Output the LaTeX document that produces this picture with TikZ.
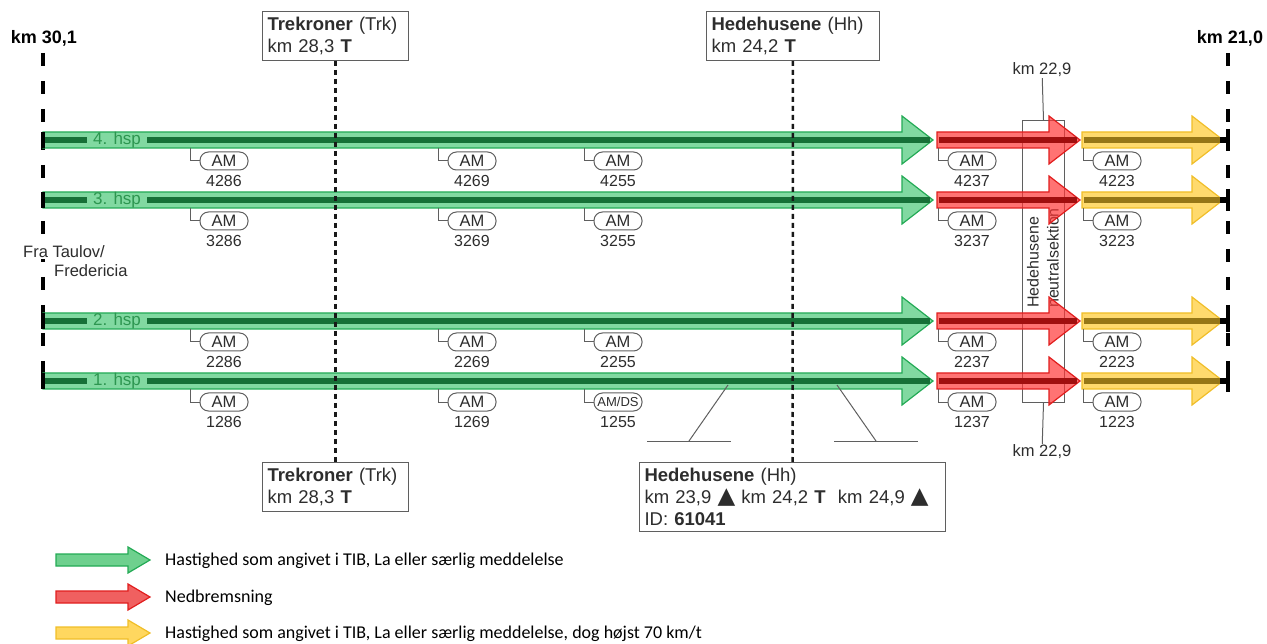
\documentclass[tikz,border=0pt]{standalone}
\usepackage{fontspec}
\setmainfont{Liberation Sans}
\newfontfamily\legendfont{Carlito}
\newfontfamily\trianglefont{DejaVu Sans}
\usetikzlibrary{
	calc,
	positioning,
}
\definecolor{textgray}{RGB}{45,45,45}
\definecolor{boxgray}{RGB}{95,95,95}
\definecolor{hspgreen}{RGB}{80,202,125}
\definecolor{hspgreenedge}{RGB}{35,170,85}
\definecolor{hspgreendark}{RGB}{22,112,55}
\definecolor{hsplabel}{RGB}{45,150,80}
\definecolor{hspred}{RGB}{255,55,55}
\definecolor{hspredegde}{RGB}{225,30,30}
\definecolor{hspreddark}{RGB}{160,15,15}
\definecolor{hspyellow}{RGB}{255,205,60}
\definecolor{hspyellowedge}{RGB}{240,190,40}
\definecolor{hspyellowdark}{RGB}{150,118,22}
\definecolor{legendgreen}{RGB}{110,208,142}
\definecolor{legendred}{RGB}{240,96,96}
\definecolor{legendyellow}{RGB}{255,215,95}

\tikzset{station box/.style={
	draw=boxgray,
	line width=1pt,
	fill=white,
	align=left,
	inner sep=5pt,
	anchor=north west,
	font=\fontsize{18.5}{22}\selectfont,
	text=textgray,
}}
\tikzset{km label/.style={
	inner sep=0pt,
	font=\bfseries\fontsize{18}{20}\selectfont,
	text=black,
}}
\tikzset{small label/.style={
	inner sep=1pt,
	font=\fontsize{16.5}{20}\selectfont,
	text=textgray,
}}
\tikzset{am pill/.style={
	draw=boxgray,
	line width=1pt,
	rounded corners=8.5pt,
	minimum width=48pt,
	minimum height=18pt,
	inner sep=0pt,
	font=\fontsize{16.5}{16.5}\selectfont,
	text=textgray,
}}
\tikzset{am number/.style={
	inner sep=0pt,
	font=\fontsize{16}{16}\selectfont,
	text=textgray,
}}
\tikzset{thin line/.style={
	draw=boxgray,
	line width=1pt,
}}
\tikzset{km line/.style={
	line width=4pt,
	dash pattern=on 13pt off 15pt,
	black,
}}
\tikzset{station line/.style={
	line width=2.5pt,
	dash pattern=on 5pt off 4pt,
	black!90,
}}
\tikzset{end stub/.style={
	line width=4pt,
	black,
}}
\tikzset{green arrow/.style={
	fill=hspgreen,
	fill opacity=0.72,
	draw=hspgreenedge,
	line width=1.2pt,
}}
\tikzset{red arrow/.style={
	fill=hspred,
	fill opacity=0.7,
	draw=hspredegde,
	line width=1.2pt,
}}
\tikzset{yellow arrow/.style={
	fill=hspyellow,
	fill opacity=0.75,
	draw=hspyellowedge,
	line width=1.2pt,
}}
\tikzset{track line/.style={
	line width=6pt,
}}
\tikzset{track label/.style={
	inner xsep=6pt,
	inner ysep=0pt,
	font=\fontsize{17}{17}\selectfont,
	text=hsplabel,
}}
\tikzset{legend text/.style={
	anchor=west,
	inner sep=0pt,
	font=\legendfont\fontsize{18}{20}\selectfont,
	text=black,
}}
\newcommand{\tri}{{\trianglefont\fontsize{23}{20}\selectfont ▲}}

\begin{document}
\begin{tikzpicture}[x=1pt,y=-1pt]
\useasboundingbox (0,0) rectangle (1267,644);

% km limits
\node[km label](km301) 	at (44,38) {km 30,1};
\node[km label](km210) 	at (1230,38) {km 21,0};
\coordinate(lefttop) 	at (43,53);
\coordinate(leftbot) 	at (43,388);
\coordinate(righttop) 	at (1228,53);
\coordinate(rightbot) 	at (1228,388);
\draw[km line] (lefttop) -- (leftbot);
\draw[km line] (righttop) -- (rightbot);

% neutral section
\node[thin line, anchor=north west, minimum width=42pt, minimum height=282pt, inner sep=0pt](neutral) at (1022,120) {};
\node[small label, rotate=90, align=left, anchor=west, font=\fontsize{16}{20}\selectfont](neutraltext) at (1043,309) {Hedehusene\\neutralsektion};

% tracks
\newcommand{\hsparrow}[4]{
\path[#4] (#1,#3-8) -- (#2-31,#3-8) -- (#2-31,#3-24) -- (#2,#3)
-- (#2-31,#3+24) -- (#2-31,#3+8) -- (#1,#3+8) -- cycle;
}
\newcommand{\hsptrack}[2]{
\hsparrow{43}{933}{#2}{green arrow}
\hsparrow{937}{1080}{#2}{red arrow}
\hsparrow{1082}{1223}{#2}{yellow arrow}
\coordinate(s#1) 	at (43,#2);
\coordinate(g#1) 	at (930,#2);
\coordinate(r#1) 	at (939,#2);
\coordinate(rr#1) 	at (1077,#2);
\coordinate(y#1) 	at (1084,#2);
\coordinate(yy#1) 	at (1220,#2);
\coordinate(e#1) 	at (1228,#2);
\node[track label](l#1) at (117,#2) {#1. hsp};
\draw[track line, hspgreendark] (s#1) -- (l#1);
\draw[track line, hspgreendark] (l#1) -- (g#1);
\draw[track line, hspreddark] (r#1) -- (rr#1);
\draw[track line, hspyellowdark] (y#1) -- (yy#1);
\draw[track line, black] (yy#1) -- (e#1);
\draw[end stub] (43,#2-8) -- (43,#2+8);
\draw[end stub] (1228,#2-11) -- (1228,#2+11);
}

\hsptrack{4}{140}
\hsptrack{3}{200}
\hsptrack{2}{321}
\hsptrack{1}{381}

% AM markers
\newcommand{\amsign}[4]{
\node[am pill](am#1) 	at (#2+34,#3+21) {#4};
\node[am number](n#1) 	at (#2+34,#3+41) {#1};
\draw[thin line] (#2,#3+8) |- (am#1.west);
}

\amsign{4286}{190}{140}{AM}
\amsign{4269}{438}{140}{AM}
\amsign{4255}{584}{140}{AM}
\amsign{4237}{938}{140}{AM}
\amsign{4223}{1083}{140}{AM}

\amsign{3286}{190}{200}{AM}
\amsign{3269}{438}{200}{AM}
\amsign{3255}{584}{200}{AM}
\amsign{3237}{938}{200}{AM}
\amsign{3223}{1083}{200}{AM}

\amsign{2286}{190}{321}{AM}
\amsign{2269}{438}{321}{AM}
\amsign{2255}{584}{321}{AM}
\amsign{2237}{938}{321}{AM}
\amsign{2223}{1083}{321}{AM}

\amsign{1286}{190}{381}{AM}
\amsign{1269}{438}{381}{AM}
\amsign{1255}{584}{381}{\fontsize{13}{13}\selectfont AM/DS}
\amsign{1237}{938}{381}{AM}
\amsign{1223}{1083}{381}{AM}

% stations
\node[station box, text width=136pt, minimum height=49pt](trkN) at (262,11)
{\textbf{Trekroner} (Trk)\\km 28,3 \textbf{T}};
\node[station box, text width=136pt, minimum height=49pt](trkS) at (262,462)
{\textbf{Trekroner} (Trk)\\km 28,3 \textbf{T}};
\node[station box, text width=163pt, minimum height=49pt](hhN) at (706,11)
{\textbf{Hedehusene} (Hh)\\km 24,2 \textbf{T}};
\node[station box, text width=296pt, minimum height=69pt](hhS) at (639,462)
{\textbf{Hedehusene} (Hh)\\
km 23,9 \tri\ km 24,2 \textbf{T}\ \ km 24,9 \tri\\
ID: \textbf{61041}};

\draw[station line] (trkN) -- (trkS);
\draw[station line] (hhN) -- (hhS);

% switches
\coordinate(swL) 	at (728,385);
\coordinate(swLb) 	at (689,441);
\coordinate(swLl) 	at (647,441);
\coordinate(swLr) 	at (731,441);
\coordinate(swR) 	at (837,385);
\coordinate(swRb) 	at (876,441);
\coordinate(swRl) 	at (834,441);
\coordinate(swRr) 	at (918,441);
\draw[thin line] (swL) -- (swLb);
\draw[thin line] (swLl) -- (swLr);
\draw[thin line] (swR) -- (swRb);
\draw[thin line] (swRl) -- (swRr);

% origin
\node[small label, fill=white, anchor=west](taulov) 	at (22,252) {Fra Taulov/};
\node[small label, fill=white, anchor=west](fredericia) at (53,271) {Fredericia};

% km 22,9
\node[small label](km229N) 	at (1042,70) {km 22,9};
\node[small label](km229S) 	at (1042,452) {km 22,9};
\draw[thin line] (km229N) -- (neutral.north);
\draw[thin line] (neutral.south) -- (km229S);

% legend
\newcommand{\legendarrow}[3]{
\path[fill=#2, draw=#3, line width=1.2pt] (56,#1-6) -- (128,#1-6) -- (128,#1-13) -- (150,#1)
-- (128,#1+13) -- (128,#1+6) -- (56,#1+6) -- cycle;
}
\legendarrow{560}{legendgreen}{hspgreenedge}
\legendarrow{597}{legendred}{hspredegde}
\legendarrow{633}{legendyellow}{hspyellowedge}

\node[legend text](lg1) at (165,561) {Hastighed som angivet i TIB, La eller særlig meddelelse};
\node[legend text](lg2) at (165,598) {Nedbremsning};
\node[legend text](lg3) at (165,634) {Hastighed som angivet i TIB, La eller særlig meddelelse, dog højst 70 km/t};

\end{tikzpicture}
\end{document}
